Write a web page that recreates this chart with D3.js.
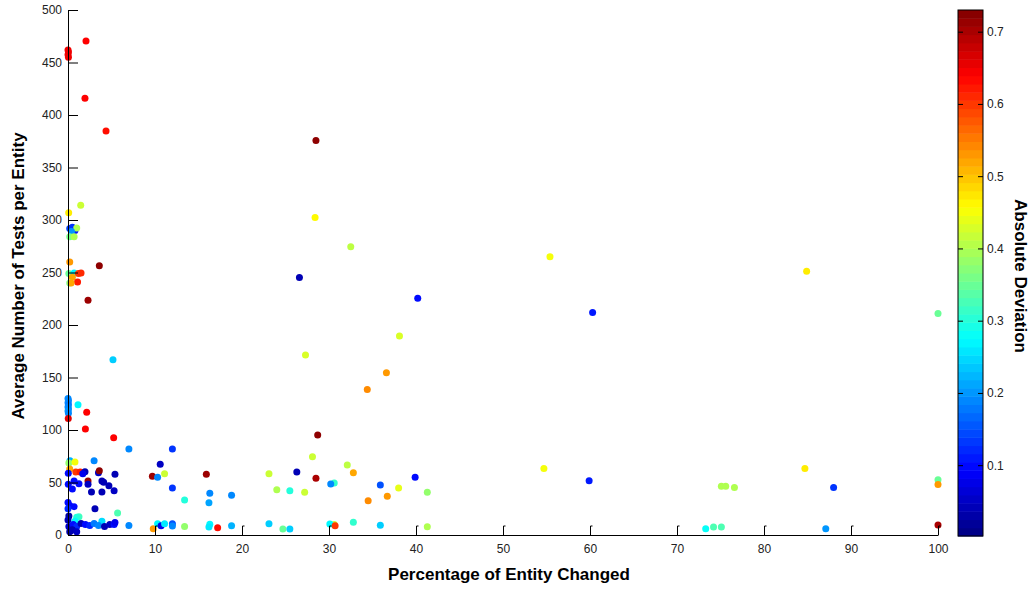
<!DOCTYPE html>
<html>
<head>
<meta charset="utf-8">
<script src="https://cdn.jsdelivr.net/npm/d3@7"></script>
<style>
  body { margin: 0; background: #fff; }
  svg { font-family: "Liberation Sans", Arial, sans-serif; }
  .axis text { font-size: 12px; fill: #222; }
  .axis path, .axis line { stroke: #000; }
  .title { font-size: 17px; font-weight: bold; fill: #000; }
</style>
</head>
<body>
<script>
// percentage of entity changed (x), avg tests per entity (y), absolute deviation (colour)
var pctChanged = [
  2.07, 1.95, 4.37, 0.0, 0.05, 0.0, 0.05, 28.5, 1.46, 0.08, 28.4, 0.2, 0.5, 0.8, 1.0, 0.4,
  0.2, 0.7, 32.5, 55.4, 0.2, 3.6, 84.9, 0.1, 0.7, 1.2, 1.5, 0.5, 26.6, 1.1, 0.2, 0.35,
  40.2, 2.3, 60.3, 100, 38.1, 27.3, 5.17, 36.6, 34.4,
  0, 0.05, 0, 0.05, 0, 0.05, 0, 0.05,
  1.15, 2.15, 0.03, 2.0, 28.7, 5.25, 7.0, 12.0, 28.1, 3.0, 0.23, 0.1, 0.8, 10.6, 32.1, 54.7,
  84.7, 0.2, 0.9, 1.4, 0.03, 1.95, 1.7, 3.5, 3.6, 5.4, 26.3, 32.8, 23.1, 11.1, 15.9, 9.7,
  10.3, 39.9, 28.5, 100, 59.9, 2.3, 0.7, 3.9, 4.1, 30.6, 1.26, 30.2, 0.03, 2.3, 100, 35.9,
  4.7, 75.1, 75.6, 76.6, 88.0, 12.0, 38.0, 0.5, 24.0, 5.3, 25.5, 2.7, 3.9, 27.2, 41.3, 16.3,
  18.8, 36.7, 13.4, 34.5, 0, 16.2, 0.2, 0.7, 0, 3.1, 5.7, 1.26, 1.0, 0.1, 0, 0.8,
  3.9, 32.8, 0.1, 0.3, 0.6, 1.0, 1.5, 2.0, 2.5, 3.0, 3.5, 4.2, 4.8, 5.3, 5.4, 7.0,
  0.2, 0.5, 1.0, 9.8, 10.3, 10.7, 11.1, 12.0, 12.0, 13.4, 16.3, 16.2, 17.2, 18.8, 23.1, 24.7,
  25.5, 30.6, 30.1, 30.7, 35.9, 41.3, 73.3, 74.2, 75.1, 87.1, 100
];
var testsPerEntity = [
  470.5, 416, 384.8, 462, 460, 457.5, 455, 375.7, 314, 307, 302.3, 292, 293, 290, 292.5, 289,
  284, 284, 274.6, 265, 260, 256.5, 251.2, 249, 249.5, 249, 249.5, 245.5, 245.2, 241, 240, 240,
  225.5, 223.5, 211.9, 210.9, 189.5, 171.5, 167, 154.5, 138.5,
  130, 128, 126, 124, 122, 120, 118, 116,
  124, 117, 111, 101, 95.3, 92.7, 82, 82, 74.6, 70.8, 70.8, 68.5, 69.5, 67.3, 66.7, 63.3,
  63.3, 62.8, 60, 60, 58.7, 60.3, 58.4, 59.3, 61.2, 57.8, 60, 59.3, 58.4, 58.4, 57.8, 56,
  55, 55, 54, 52.7, 51.7, 51.4, 51.4, 51.4, 50.2, 49.5, 48.9, 48.6, 48.3, 48.3, 48, 47.6,
  47, 46.4, 46.4, 45.3, 45.3, 44.8, 44.8, 43.8, 43.2, 42.2, 42.2, 41, 41, 40.6, 40.6, 39.7,
  37.8, 36.8, 33.3, 32.7, 31, 30.8, 28, 27, 25, 25, 21, 17.5, 17, 18, 14.3, 13,
  13, 12.1, 8, 4, 10, 8, 11, 10, 9, 11, 9, 8, 10, 10, 12, 9,
  3, 5, 3, 6, 10.8, 8.9, 10.8, 10.8, 8.6, 8, 10.2, 7.6, 7, 8.9, 10.8, 5.7,
  5.7, 10, 10.5, 8.9, 9.2, 7.9, 6, 7.6, 7.6, 6, 9.6
];
var absDeviation = [
  0.64, 0.64, 0.63, 0.65, 0.65, 0.65, 0.65, 0.72, 0.42, 0.47, 0.46, 0.14, 0.13, 0.11, 0.4, 0.2,
  0.36, 0.4, 0.41, 0.45, 0.53, 0.72, 0.47, 0.35, 0.27, 0.6, 0.61, 0.52, 0.04, 0.62, 0.36, 0.52,
  0.1, 0.71, 0.11, 0.35, 0.43, 0.43, 0.24, 0.53, 0.54,
  0.19, 0.19, 0.19, 0.18, 0.19, 0.19, 0.2, 0.19,
  0.27, 0.64, 0.66, 0.64, 0.72, 0.64, 0.19, 0.13, 0.42, 0.19, 0.22, 0.38, 0.45, 0.05, 0.41, 0.45,
  0.47, 0.52, 0.6, 0.62, 0.1, 0.04, 0.08, 0.05, 0.72, 0.04, 0.04, 0.52, 0.42, 0.42, 0.71, 0.71,
  0.19, 0.1, 0.7, 0.35, 0.11, 0.71, 0.1, 0.04, 0.04, 0.31, 0.1, 0.19, 0.1, 0.05, 0.53, 0.15,
  0.04, 0.4, 0.4, 0.4, 0.13, 0.13, 0.44, 0.1, 0.4, 0.05, 0.3, 0.04, 0.04, 0.42, 0.38, 0.19,
  0.19, 0.53, 0.3, 0.54, 0.1, 0.21, 0.1, 0.1, 0.12, 0.04, 0.33, 0.32, 0.3, 0.03, 0.04, 0.27,
  0.25, 0.31, 0.05, 0.05, 0.1, 0.12, 0.04, 0.1, 0.12, 0.18, 0.19, 0.04, 0.05, 0.1, 0.08, 0.19,
  0.03, 0.04, 0.05, 0.53, 0.27, 0.08, 0.26, 0.15, 0.19, 0.38, 0.27, 0.26, 0.63, 0.22, 0.24, 0.35,
  0.24, 0.42, 0.27, 0.6, 0.24, 0.4, 0.28, 0.33, 0.33, 0.2, 0.7
];
var xTicks = [0, 10, 20, 30, 40, 50, 60, 70, 80, 90, 100];
var yTicks = [0, 50, 100, 150, 200, 250, 300, 350, 400, 450, 500];
var cTicks = [0.1, 0.2, 0.3, 0.4, 0.5, 0.6, 0.7];
var devMin = 0.002, devMax = 0.73;

var width = 1036, height = 590;

var x = d3.scaleLinear().domain([0, 100]).range([68, 938]);
var y = d3.scaleLinear().domain([0, 500]).range([535, 10]);

// matlab "jet" colormap
var jetStops = [0, 0.125, 0.375, 0.625, 0.875, 1];
var jetColors = ["#000080", "#0000ff", "#00ffff", "#ffff00", "#ff0000", "#800000"];
var color = d3.scaleLinear()
    .domain(jetStops.map(t => devMin + t * (devMax - devMin)))
    .range(jetColors)
    .clamp(true);

var svg = d3.select("body")
    .append("svg")
    .attr("width", width)
    .attr("height", height);

var points = d3.range(pctChanged.length).map(i =>
    ({ x: pctChanged[i], y: testsPerEntity[i], d: absDeviation[i] }));

svg.append("g")
    .selectAll("circle")
    .data(points)
    .enter()
    .append("circle")
    .attr("cx", d => x(d.x))
    .attr("cy", d => y(d.y))
    .attr("r", 3.5)
    .attr("fill", d => color(d.d));

// axes
var yAxis = d3.axisLeft(y).tickValues(yTicks).tickSizeInner(-10).tickSizeOuter(0).tickPadding(6);
svg.append("g")
    .attr("class", "axis")
    .attr("transform", `translate(${x(0)},0)`)
    .call(yAxis);

var xAxis = d3.axisBottom(x).tickValues(xTicks).tickSizeInner(-9).tickSizeOuter(0).tickPadding(9);
var gx = svg.append("g")
    .attr("class", "axis")
    .attr("transform", `translate(0,${y(0)})`)
    .call(xAxis);
// little hook on top of tick marks
gx.selectAll(".tick")
    .filter(d => d > 0)
    .append("line")
    .attr("x1", 0).attr("x2", 2)
    .attr("y1", -9).attr("y2", -9)
    .attr("stroke", "#000");

svg.append("text")
    .attr("class", "title")
    .attr("x", 509)
    .attr("y", 580)
    .attr("text-anchor", "middle")
    .text("Percentage of Entity Changed");

svg.append("text")
    .attr("class", "title")
    .attr("transform", "translate(24,276) rotate(-90)")
    .attr("text-anchor", "middle")
    .text("Average Number of Tests per Entity");

// colorbar
var cbX = 958, cbW = 25;
var cy = d3.scaleLinear().domain([devMin, devMax]).range([536, 10]);
var nBands = 64;
var bands = d3.range(nBands).map(i => devMin + (i + 0.5) * (devMax - devMin) / nBands);
var bandH = (cy(devMin) - cy(devMax)) / nBands;

svg.append("g")
    .selectAll("rect")
    .data(bands)
    .enter()
    .append("rect")
    .attr("x", cbX)
    .attr("width", cbW)
    .attr("y", d => cy(d) - bandH / 2)
    .attr("height", bandH + 0.5)
    .attr("fill", d => color(d));

svg.append("rect")
    .attr("x", cbX).attr("y", cy(devMax))
    .attr("width", cbW).attr("height", cy(devMin) - cy(devMax))
    .attr("fill", "none").attr("stroke", "#000");

svg.append("g")
    .attr("class", "axis")
    .attr("transform", `translate(${cbX + cbW},0)`)
    .call(d3.axisRight(cy).tickValues(cTicks).tickSizeInner(-5).tickSizeOuter(0).tickPadding(4)
        .tickFormat(d3.format(".1f")))
    .select(".domain").remove();

svg.append("g")
    .attr("class", "axis")
    .attr("transform", `translate(${cbX},0)`)
    .call(d3.axisLeft(cy).tickValues(cTicks).tickSizeInner(-5).tickSizeOuter(0).tickFormat(""))
    .select(".domain").remove();

svg.append("text")
    .attr("class", "title")
    .attr("transform", "translate(1015,276) rotate(90)")
    .attr("text-anchor", "middle")
    .text("Absolute Deviation");
</script>
</body>
</html>
